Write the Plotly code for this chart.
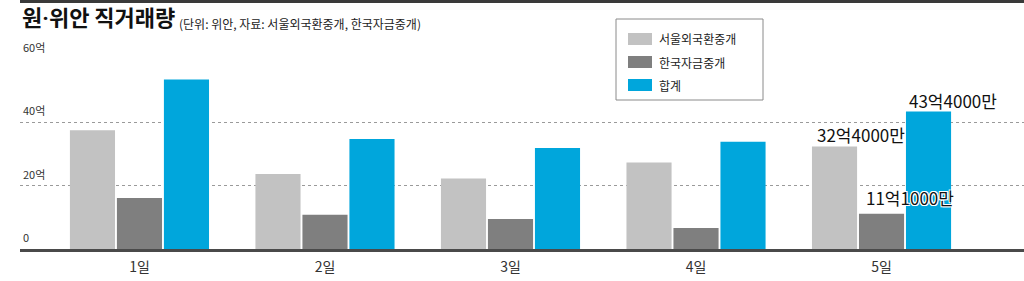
import plotly.graph_objects as go

# ---------------- data ----------------
categories = ["1일", "2일", "3일", "4일", "5일"]
series_names = ["서울외국환중개", "한국자금중개", "합계"]
seoul = [37.5, 23.7, 22.3, 27.3, 32.4]
korea = [16.1, 10.8, 9.5, 6.6, 11.1]
total = [53.5, 34.7, 31.9, 33.9, 43.4]
value_labels = ["32억4000만", "11억1000만", "43억4000만"]
y_tick_vals = [0, 20, 40, 60]
y_tick_text = ["0", "20억", "40억", "60억"]
title_parts = ["원", "·", "위안 직거래량"]
subtitle_text = "(단위: 위안, 자료: 서울외국환중개, 한국자금중개)"

colors = ["#c2c2c2", "#7f7f7f", "#00a6dc"]
FONT = "Noto Sans CJK KR"

W, H = 1024, 281
ML, MR, MT, MB = 20, 0, 59, 32
PW, PH = W - ML - MR, H - MT - MB


def px_x(px):
    return (px - ML) / PW


def px_y(py):
    return (H - MB - py) / PH


fig = go.Figure()
for name, vals, col in zip(series_names, [seoul, korea, total], colors):
    fig.add_trace(go.Bar(x=categories, y=vals, name=name, marker_color=col,
                         marker_line_width=0, showlegend=False, hoverinfo="skip"))

shapes = []
annotations = []

# top rule
shapes.append(dict(type="line", xref="paper", yref="paper", x0=px_x(20), x1=1.0,
                   y0=px_y(1.5), y1=px_y(1.5), line=dict(color="#3a3a3a", width=3)))

# title + subtitle
title_html = ("<b>" + title_parts[0] + "<span style='font-family:Roboto'>" + title_parts[1]
              + "</span>" + title_parts[2] + "</b>")
annotations.append(dict(text=title_html, xref="paper", yref="paper",
                        x=px_x(20), y=px_y(34), xanchor="left", yanchor="bottom",
                        showarrow=False, font=dict(family=FONT, size=22, color="#111")))
annotations.append(dict(text=subtitle_text, xref="paper", yref="paper",
                        x=px_x(177), y=px_y(34), xanchor="left", yanchor="bottom",
                        showarrow=False, font=dict(family=FONT, size=12, color="#222")))

# y tick labels (above gridlines)
for v, t in zip(y_tick_vals, y_tick_text):
    annotations.append(dict(text=t, xref="paper", yref="y", x=px_x(21), y=v,
                            xanchor="left", yanchor="bottom", yshift=2, showarrow=False,
                            font=dict(family=FONT, size=11, color="#333")))

# custom legend
lx0, lx1, ly0, ly1 = 616, 763, 19, 100
shapes.append(dict(type="rect", xref="paper", yref="paper", x0=px_x(lx0), x1=px_x(lx1),
                   y0=px_y(ly1), y1=px_y(ly0), fillcolor="white",
                   line=dict(color="#8a8a8a", width=1), layer="above"))
row_y = [39, 62, 85]
for name, col, ry in zip(series_names, colors, row_y):
    shapes.append(dict(type="rect", xref="paper", yref="paper", x0=px_x(628), x1=px_x(652),
                       y0=px_y(ry + 6), y1=px_y(ry - 6), fillcolor=col,
                       line=dict(width=0), layer="above"))
    annotations.append(dict(text=name, xref="paper", yref="paper", x=px_x(657), y=px_y(ry),
                            xanchor="left", yanchor="middle", showarrow=False,
                            font=dict(family=FONT, size=12, color="#222")))

# value labels on 5일
last = categories[-1]
label_specs = [(seoul[-1], -67, -3, False), (korea[-1], -18, 2, True), (total[-1], 25, -3, False)]
for txt, (val, xs, ys, halo) in zip(value_labels, label_specs):
    f = dict(family=FONT, size=17, color="#111")
    if halo:
        f["shadow"] = "-1px -1px 0 #fff, 1px -1px 0 #fff, -1px 1px 0 #fff, 1px 1px 0 #fff"
    annotations.append(dict(text=txt, x=last, y=val, xref="x", yref="y",
                            xanchor="left", yanchor="bottom", xshift=xs, yshift=ys,
                            showarrow=False, font=f))

fig.update_layout(
    width=W, height=H,
    margin=dict(l=ML, r=MR, t=MT, b=MB, pad=0),
    paper_bgcolor="white", plot_bgcolor="white",
    barmode="group", bargap=0.24, bargroupgap=0.04,
    shapes=shapes, annotations=annotations,
    showlegend=False,
    font=dict(family=FONT),
)
fig.update_xaxes(range=[-0.644, 4.768], showline=True, linecolor="#4a4a4a", linewidth=2.5,
                 ticks="", showgrid=False, tickfont=dict(family=FONT, size=14, color="#333"),
                 ticklabelstandoff=3, fixedrange=True)
fig.update_yaxes(range=[0, 60], tickvals=y_tick_vals, showticklabels=False,
                 showgrid=True, gridcolor="#9a9a9a", gridwidth=1, griddash="dot",
                 zeroline=False, fixedrange=True)

fig.write_html("out.html")
